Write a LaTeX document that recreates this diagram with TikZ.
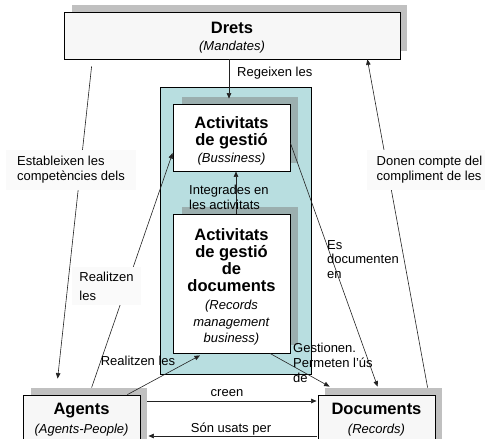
\documentclass[tikz,border=0pt]{standalone}
\usepackage{fontspec}
\setmainfont{Liberation Sans}
\usepackage{tikz}
\usetikzlibrary{arrows.meta,positioning,calc}
\definecolor{tealbg}{HTML}{B8DEE0}
\definecolor{tealsh}{HTML}{9BAFAF}
\definecolor{greysh}{HTML}{C0C0C0}
\definecolor{boxbg}{HTML}{F7F7F7}
\definecolor{lblbg}{HTML}{FAFAFA}
\definecolor{linec}{HTML}{222222}
\newcommand{\ttl}{\fontsize{16.5}{20}\selectfont\bfseries}

\begin{document}
\begin{tikzpicture}[x=1pt, y=-1pt, font=\fontsize{13}{17}\selectfont,
  box/.style={draw, line width=0.8pt, inner sep=0pt, align=center},
  arr/.style={-{Triangle[length=5.5pt,width=4.5pt]}, line width=0.6pt, draw=linec},
  lbl/.style={inner sep=2pt, align=left, font=\fontsize{13}{15}\selectfont}]
  \useasboundingbox (0,0) rectangle (485,439);
  \clip (0,0) rectangle (485,439);
  \fill[greysh] (72,5) rectangle (407,51);
  \node[box, fill=boxbg, minimum width=336pt, minimum height=47pt] (drets) at (232,35.5) {{\ttl\rule{0pt}{15pt}Drets}\\\textit{(Mandates)}};
  \node[box, fill=tealbg, minimum width=151pt, minimum height=287pt] (bloc) at (235.5,230.5) {};
  \fill[tealsh] (182,97) rectangle (298,163);
  \node[box, fill=white, minimum width=117pt, minimum height=67pt] (act) at (231.5,137.5) {{\ttl\rule{0pt}{18pt}Activitats}\\{\ttl de gesti\'o}\\\textit{(Bussiness)}};
  \fill[tealsh] (182,207) rectangle (298,345);
  \node[box, fill=white, minimum width=117pt, minimum height=139pt] (rm) at (231.5,283.5) {{\ttl\rule{0pt}{18pt}Activitats}\\{\ttl de gesti\'o}\\{\ttl de}\\{\ttl documents}\\[1pt]\textit{(Records}\\\textit{management}\\[-1pt]\textit{business)}};
  \fill[greysh] (31,388) rectangle (147,445);
  \node[box, fill=boxbg, minimum width=117pt, minimum height=50pt] (agents) at (81.5,420) {{\ttl Agents}\\[2pt]\textit{(Agents-People)}};
  \fill[greysh] (325,388) rectangle (442,445);
  \node[box, fill=boxbg, minimum width=117pt, minimum height=50pt] (documents) at (376.5,420) {{\ttl Documents}\\[2pt]\textit{(Records)}};

  \draw[arr] ([xshift=28pt,yshift=-7pt]drets.south west) -- ([xshift=35pt,yshift=16pt]agents.north west);
  \draw[arr] ([xshift=110pt,yshift=7pt]documents.north west) -- ([xshift=-33pt]drets.south east);
  \draw[arr] ([xshift=69pt,yshift=7pt]agents.north west) -- ([yshift=-15.5pt]act.west);
  \draw[arr] ([yshift=-5.5pt]act.east) -- ([xshift=60pt,yshift=8pt]documents.north west);
  \draw[arr] ([xshift=-3pt]drets.south) -- ([xshift=-2.5pt,yshift=5pt]act.north);
  \draw[arr] ([xshift=4.5pt]rm.north) -- ([xshift=4.5pt]act.south);
  \draw[arr] ([xshift=-13pt]agents.north east) -- ([xshift=-31.5pt,yshift=-2pt]rm.south);
  \draw[arr] ([xshift=38.5pt]rm.south) -- ([xshift=12pt,yshift=8pt]documents.north west);
  \draw[arr] ([xshift=7pt,yshift=19pt]agents.east) -- ([xshift=-1pt,yshift=19pt]documents.west);
  \draw[arr] ([xshift=-1pt,yshift=-16pt]documents.west) -- ([xshift=8pt,yshift=-16pt]agents.east);

  \node[lbl, fill=lblbg, inner xsep=11pt, inner ysep=6pt] (estab) at (71,170) {Estableixen les\\compet\`encies dels};
  \node[lbl, fill=lblbg, inner xsep=10pt, inner ysep=6pt] (donen) at (429.5,170) {Donen compte del\\compliment de les};
  \node[lbl, fill=lblbg, inner xsep=7pt, inner ysep=5pt] (realA) at (106.5,286) {Realitzen\\[4pt]les};
  \node[lbl, anchor=west] (reg) at (235,73) {Regeixen les};
  \node[lbl, anchor=west] (integ) at (187,197) {Integrades en\\les activitats};
  \node[lbl, anchor=west] (esdoc) at (325,260) {Es\\[-1pt]documenten\\en};
  \node[lbl, anchor=west] (gest) at (291,363) {Gestionen.\\Permeten l'\'us\\de};
  \node[lbl] (realB) at (138,361) {Realitzen les};
  \node[lbl] (creen) at (227,393) {creen};
  \node[lbl] (usats) at (231,429) {S\'on usats per};
\end{tikzpicture}
\end{document}
